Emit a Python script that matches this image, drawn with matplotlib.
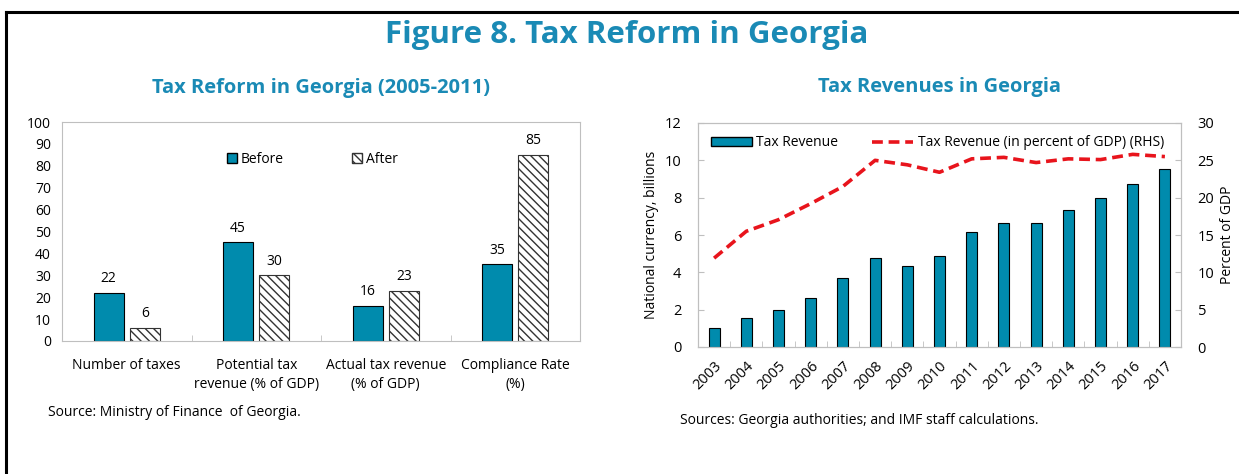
import numpy as np
import matplotlib
matplotlib.use('Agg')
import matplotlib.pyplot as plt
from matplotlib.lines import Line2D
from matplotlib.patches import Patch

plt.rcParams['font.family'] = ['Open Sans', 'DejaVu Sans']
plt.rcParams['hatch.linewidth'] = 1.0

# Data
categories = ['Number of taxes', 'Potential tax\nrevenue (% of GDP)',
              'Actual tax revenue\n(% of GDP)', 'Compliance Rate\n(%)']
before = [22, 45, 16, 35]
after = [6, 30, 23, 85]

years = [str(y) for y in range(2003, 2018)]
tax_rev = [1.04, 1.55, 1.96, 2.63, 3.68, 4.77, 4.34, 4.86, 6.14, 6.64, 6.64, 7.34, 7.98, 8.73, 9.54]
tax_rev_gdp = [11.9, 15.5, 17.05, 19.2, 21.5, 25.0, 24.4, 23.4, 25.2, 25.4, 24.7, 25.2, 25.1, 25.8, 25.5]

teal = '#008BAD'
title_col = '#1A8AB5'
grey = '#BFBFBF'
W, H = 1239, 474

fig = plt.figure(figsize=(W / 100, H / 100), dpi=100)

def px_axes(x0, y0, x1, y1):
    return fig.add_axes([x0 / W, 1 - y1 / H, (x1 - x0) / W, (y1 - y0) / H])

# frame around the figure
fig.add_artist(Line2D([6 / W, 6 / W], [1 - 12 / H, 0], color='black', lw=2.2))
fig.add_artist(Line2D([6 / W, 1], [1 - 12 / H, 1 - 12 / H], color='black', lw=2.2))

fig.text(627 / W, 1 - 35 / H, 'Figure 8. Tax Reform in Georgia', ha='center', va='center',
         fontsize=22.5, fontweight='bold', color=title_col)

# ---- left chart
ax = px_axes(62, 122, 580, 341)
x = np.arange(len(categories))
w = 0.23
ax.bar(x - 0.14, before, w, color=teal, edgecolor='black', linewidth=0.8, label='Before')
ax.bar(x + 0.14, after, w, color='white', edgecolor='#333333', hatch='\\\\\\\\', linewidth=0.8, label='After')
for xi, v in zip(x, before):
    ax.text(xi - 0.14, v + 3, str(v), ha='center', va='bottom', fontsize=10)
for xi, v in zip(x, after):
    ax.text(xi + 0.14, v + 3, str(v), ha='center', va='bottom', fontsize=10)
ax.set_xlim(-0.5, len(categories) - 0.5)
ax.set_ylim(0, 100)
ax.set_yticks(np.arange(0, 101, 10))
ax.set_xticks(x)
ax.set_xticklabels(categories, fontsize=10, linespacing=1.35)
ax.set_xticks(np.arange(0.5, len(categories) - 1, 1), minor=True)
ax.tick_params(axis='x', which='major', length=0, pad=12)
ax.tick_params(axis='x', which='minor', length=4, direction='in', color=grey)
ax.tick_params(axis='y', length=0, labelsize=10, pad=8)
for s in ax.spines.values():
    s.set_color(grey)
ax.legend(handles=[Patch(facecolor=teal, edgecolor='black', label='Before'),
                   Patch(facecolor='white', edgecolor='#333333', hatch='\\\\\\\\', label='After')],
          loc='upper center', bbox_to_anchor=(0.483, 0.92), ncol=2, frameon=False, fontsize=10,
          handlelength=0.7, handleheight=0.7, handletextpad=0.3, columnspacing=4.9)
ax.set_title('Tax Reform in Georgia (2005-2011)', fontsize=14.5, fontweight='bold',
             color=title_col, pad=21)
fig.text(48 / W, 1 - 412 / H, 'Source: Ministry of Finance  of Georgia.', fontsize=10, va='center')

# ---- right chart
ax2 = px_axes(698, 123, 1181, 347)
xr = np.arange(len(years))
ax2.bar(xr, tax_rev, 0.34, color=teal, edgecolor='black', linewidth=0.8, label='Tax Revenue')
ax2.set_xlim(-0.5, len(years) - 0.5)
ax2.set_ylim(0, 12)
ax2.set_yticks(np.arange(0, 13, 2))
ax2.set_xticks(xr)
ax2.set_xticklabels(years, rotation=45, ha='right', rotation_mode='anchor', fontsize=10.5)
ax2.set_xticks(np.arange(0.5, len(years) - 1, 1), minor=True)
ax2.tick_params(axis='x', which='major', length=0, pad=8)
ax2.tick_params(axis='x', which='minor', length=4, direction='in', color=grey)
ax2.tick_params(axis='y', length=4, direction='in', color=grey, labelsize=10.5, pad=12)
ax2.set_ylabel('National currency, billions', fontsize=10, labelpad=4)
for s in ax2.spines.values():
    s.set_color(grey)

ax3 = ax2.twinx()
ax3.plot(xr, tax_rev_gdp, color='#E8141C', lw=2.6, dashes=(3, 1.6),
         label='Tax Revenue (in percent of GDP) (RHS)')
ax3.set_ylim(0, 30)
ax3.set_yticks(np.arange(0, 31, 5))
ax3.tick_params(axis='y', length=4, direction='in', color=grey, labelsize=10.5, pad=12)
ax3.set_ylabel('Percent of GDP', fontsize=10, labelpad=4)
for s in ax3.spines.values():
    s.set_color(grey)

h1 = Patch(facecolor=teal, edgecolor='black', label='Tax Revenue')
h2 = Line2D([], [], color='#E8141C', lw=2.6, dashes=(3, 1.6), label='Tax Revenue (in percent of GDP) (RHS)')
ax3.legend(handles=[h1, h2], loc='upper left', bbox_to_anchor=(0.0, 1.0), ncol=2, frameon=False,
           fontsize=10, handlelength=3.0, handleheight=0.6, handletextpad=0.3, columnspacing=2.4)
ax2.set_title('Tax Revenues in Georgia', fontsize=14.5, fontweight='bold', color=title_col, pad=22)
fig.text(680 / W, 1 - 420 / H, 'Sources: Georgia authorities; and IMF staff calculations.',
         fontsize=10, va='center')

fig.savefig('out.png', dpi=100)
